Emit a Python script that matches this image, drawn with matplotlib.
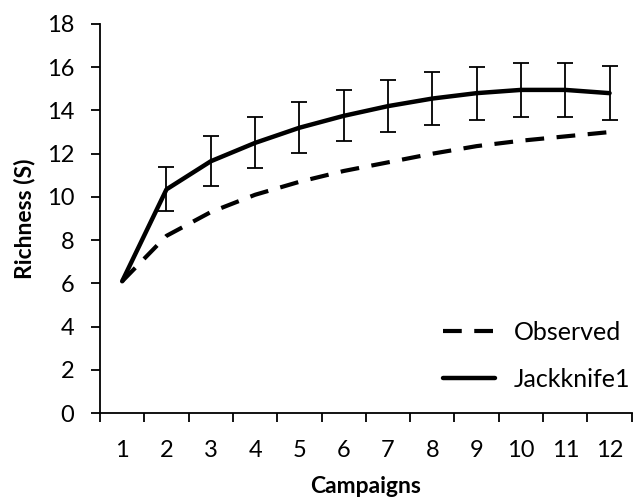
import matplotlib
matplotlib.use("Agg")
import matplotlib.pyplot as plt

# Data
campaigns = [1, 2, 3, 4, 5, 6, 7, 8, 9, 10, 11, 12]
observed = [6.1, 8.2, 9.3, 10.1, 10.7, 11.2, 11.6, 12.0, 12.35, 12.6, 12.8, 13.0]
jackknife1 = [6.1, 10.35, 11.65, 12.5, 13.2, 13.75, 14.2, 14.55, 14.8, 14.95, 14.95, 14.8]
jack_err = [0.0, 1.02, 1.16, 1.18, 1.19, 1.18, 1.19, 1.22, 1.23, 1.26, 1.26, 1.24]

plt.rcParams['font.family'] = ['Lato', 'DejaVu Sans']

fig = plt.figure(figsize=(6.33, 4.99), dpi=100)
ax = fig.add_axes([0.158, 0.172, 0.840, 0.780])

# Observed curve (dashed)
ax.plot(campaigns, observed, color="black", linewidth=3, dashes=(4.5, 3),
        label="Observed")
# Jackknife1 with error bars
ax.plot(campaigns, jackknife1, color="black", linewidth=3.2,
        solid_capstyle="round", label="Jackknife1")
ax.errorbar(campaigns[1:], jackknife1[1:], yerr=jack_err[1:], fmt="none",
            ecolor="black", elinewidth=1.3, capsize=5.5, capthick=1.3)

ax.set_xlim(0.5, 12.5)
ax.set_ylim(0, 18)
ax.set_yticks(range(0, 19, 2))

# Excel style category axis: ticks between categories, labels at centres
ax.set_xticks([c - 0.5 for c in campaigns] + [12.5])
ax.set_xticklabels([])
ax.set_xticks(campaigns, minor=True)
ax.set_xticklabels([str(c) for c in campaigns], minor=True)
ax.tick_params(axis="x", which="major", direction="out", length=6.5, width=1.3)
ax.tick_params(axis="x", which="minor", length=0, pad=19, labelsize=17)
ax.tick_params(axis="y", direction="out", length=6.5, width=1.3, pad=12,
               labelsize=17)

ax.spines["top"].set_visible(False)
ax.spines["right"].set_visible(False)
ax.spines["left"].set_linewidth(1.3)
ax.spines["bottom"].set_linewidth(1.3)

ax.set_xlabel("Campaigns", fontsize=16.5, fontweight="bold", labelpad=11)
ax.set_ylabel("Richness (S)", fontsize=16.5, fontweight="bold", labelpad=8)

ax.legend(loc="lower right", bbox_to_anchor=(1.04, 0.0), frameon=False,
          fontsize=18, handlelength=2.1, handletextpad=0.75, labelspacing=0.95)

fig.savefig("out.png", dpi=100)
